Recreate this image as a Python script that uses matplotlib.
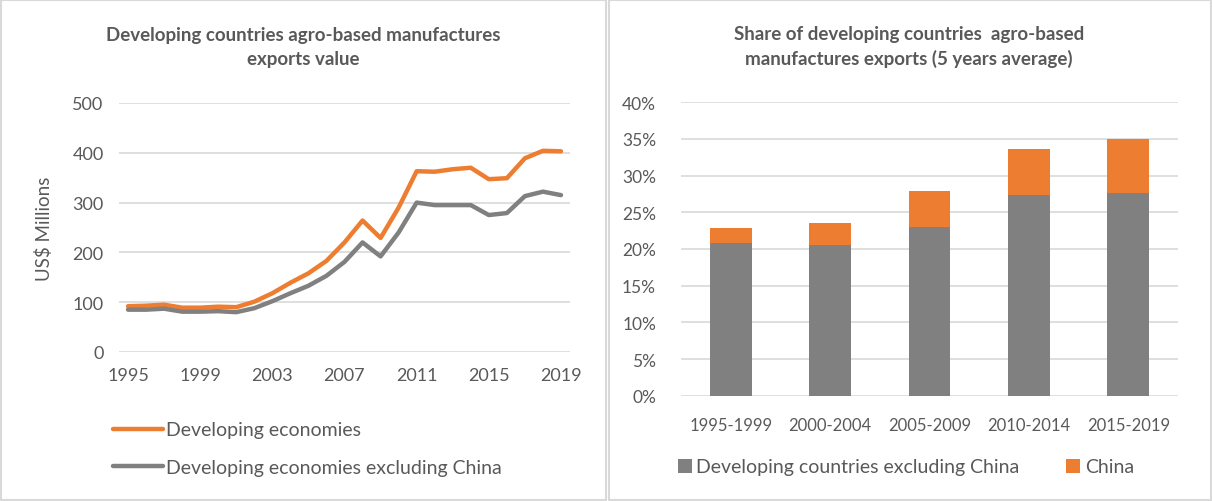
import numpy as np
import matplotlib.pyplot as plt
from matplotlib.patches import Rectangle
from matplotlib.lines import Line2D

plt.rcParams['font.family'] = ['Lato', 'DejaVu Sans']

# DATA
years = list(range(1995, 2020))
developing = [92, 93, 95, 89, 89, 91, 90, 101, 118, 139, 158, 183, 220, 264, 229,
              290, 363, 362, 367, 370, 347, 349, 389, 404, 403]
developing_ex_china = [85, 85, 87, 81, 81, 82, 80, 88, 102, 118, 133, 153, 181, 220, 192,
                       240, 300, 295, 295, 295, 275, 279, 313, 322, 315]

periods = ["1995-1999", "2000-2004", "2005-2009", "2010-2014", "2015-2019"]
share_ex_china = [20.8, 20.6, 23.0, 27.3, 27.7]
share_china = [2.1, 3.0, 4.9, 6.4, 7.3]

ORANGE = '#ed7d31'
GRAY = '#808080'
TXT = '#595959'
GRID = '#d9d9d9'

fig = plt.figure(figsize=(12.12, 5.02), dpi=100)

# panel borders
fig.add_artist(Rectangle((1/1212, 1/502), 605/1212, 500/502, transform=fig.transFigure,
                         fill=False, edgecolor=GRID, lw=1.5))
fig.add_artist(Rectangle((609/1212, 1/502), 602/1212, 500/502, transform=fig.transFigure,
                         fill=False, edgecolor=GRID, lw=1.5))

# LEFT: line chart
ax1 = fig.add_axes([119/1212, 149/502, 451/1212, 249/502])
ax1.plot(years, developing, color=ORANGE, lw=3.2, solid_capstyle='round')
ax1.plot(years, developing_ex_china, color=GRAY, lw=3.2, solid_capstyle='round')
ax1.set_xlim(1994.5, 2019.5)
ax1.set_ylim(0, 500)
ax1.set_yticks(range(0, 501, 100))
ax1.set_xticks(range(1995, 2020, 4))
ax1.grid(axis='y', color=GRID, lw=1.2)
ax1.set_axisbelow(True)
for s in ax1.spines.values():
    s.set_visible(False)
ax1.tick_params(length=0, colors=TXT, labelsize=13, pad=11)
ax1.set_ylabel("US$ Millions", color=TXT, fontsize=13.5, labelpad=14)
fig.text(303/1212, 1 - 47/502, "Developing countries agro-based manufactures\nexports value",
         ha='center', va='center', fontsize=13.5, fontweight='bold', color=TXT, linespacing=1.5)

handles1 = [Line2D([], [], color=ORANGE, lw=3.2, solid_capstyle='round'),
            Line2D([], [], color=GRAY, lw=3.2, solid_capstyle='round')]
fig.legend(handles1, ["Developing economies", "Developing economies excluding China"],
           loc='upper left', bbox_to_anchor=(95/1212, 1 - 405/502), frameon=False,
           fontsize=14, labelcolor=TXT, handlelength=2.6, handletextpad=0.15,
           labelspacing=1.05)

# RIGHT: stacked bars
ax2 = fig.add_axes([681/1212, 105.3/502, 497/1212, 293.4/502])
x = np.arange(len(periods))
ax2.bar(x, share_ex_china, width=0.42, color=GRAY, label="Developing countries excluding China")
ax2.bar(x, share_china, width=0.42, bottom=share_ex_china, color=ORANGE, label="China")
ax2.set_xlim(-0.5, 4.5)
ax2.set_ylim(0, 40)
ax2.set_yticks(range(0, 41, 5))
ax2.set_yticklabels([f"{v}%" for v in range(0, 41, 5)])
ax2.set_xticks(x)
ax2.set_xticklabels(periods)
ax2.grid(axis='y', color=GRID, lw=1.2)
ax2.set_axisbelow(True)
for s in ax2.spines.values():
    s.set_visible(False)
ax2.tick_params(axis='y', length=0, colors=TXT, labelsize=12.5, pad=18)
ax2.tick_params(axis='x', length=0, colors=TXT, labelsize=12, pad=15)
fig.text(909/1212, 1 - 47/502, "Share of developing countries  agro-based\nmanufactures exports (5 years average)",
         ha='center', va='center', fontsize=13.5, fontweight='bold', color=TXT, linespacing=1.5)

ax2.legend(loc='center', bbox_to_anchor=(906/1212, 1 - 468/502),
           bbox_transform=fig.transFigure, ncol=2, frameon=False, fontsize=14,
           labelcolor=TXT, handlelength=0.7, handleheight=0.7, handletextpad=0.25,
           columnspacing=2.4)

fig.savefig("out.png", dpi=100)
